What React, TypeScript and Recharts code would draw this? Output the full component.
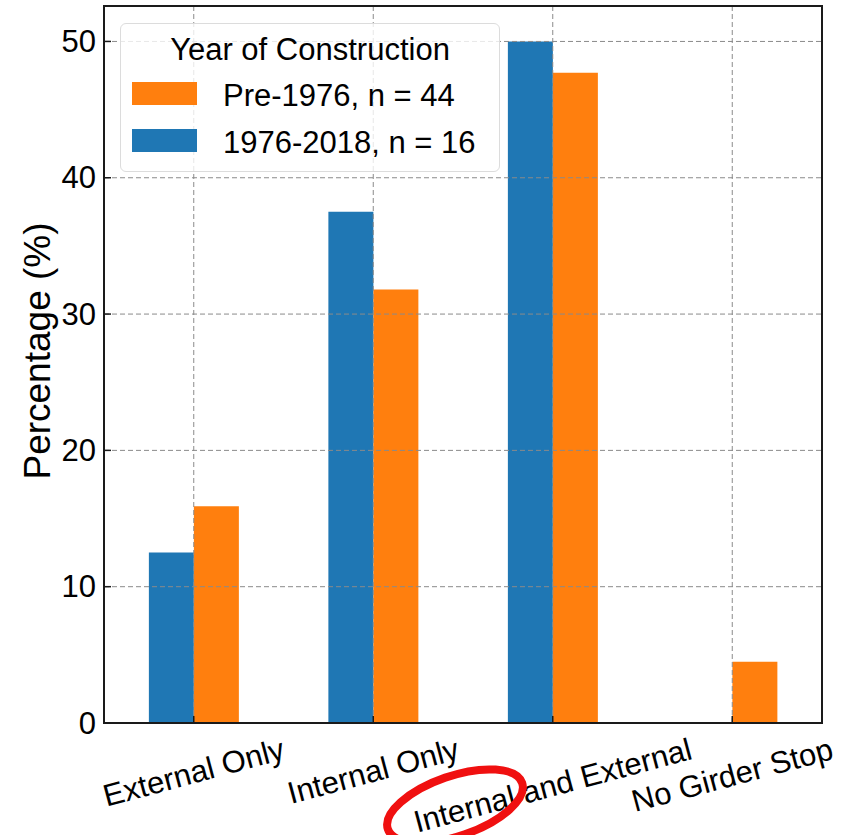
import * as R from "recharts";
import { Bar, BarChart, CartesianGrid, Legend, ReferenceLine, XAxis, YAxis } from "recharts";

const categories = ["External Only", "Internal Only", "Internal and External", "No Girder Stop"];
const post1976 = [12.5, 37.5, 50, 0];
const pre1976 = [15.9, 31.8, 47.7, 4.5];
const yTicks = [0, 10, 20, 30, 40, 50];
const yMax = 52.6;
const legendTitle = "Year of Construction";
const postLabel = "1976-2018, n = 16";
const preLabel = "Pre-1976, n = 44";

const data = categories.map((cat, i) => ({ cat, post: post1976[i], pre: pre1976[i] }));

const FONT = '"Liberation Sans", Arial, sans-serif';
const TICK_FS = 31;
const BLUE = "#1f77b4";
const ORANGE = "#ff7f0e";
const FRAME = "#1a1a1a";

let ctx: CanvasRenderingContext2D | null = null;
function textWidth(s: string, size: number) {
  if (!ctx) ctx = document.createElement("canvas").getContext("2d");
  if (!ctx) return s.length * size * 0.55;
  ctx.font = `${size}px ${FONT}`;
  return ctx.measureText(s).width;
}

// matplotlib-like rotated label: rotated about its center, bbox top at the pad
function XTick(props: any) {
  const { x, y, payload } = props;
  const a = (15 * Math.PI) / 180;
  const w = textWidth(String(payload.value), TICK_FS);
  const h = TICK_FS * 0.9;
  const cy = y + (w * Math.sin(a) + h * Math.cos(a)) / 2;
  const axisY = y - 12;
  return (
    <g>
      <line x1={x} x2={x} y1={axisY} y2={axisY - 7} stroke={FRAME} strokeWidth={1.5} />
      <text
        x={x}
        y={cy}
        textAnchor="middle"
        dominantBaseline="central"
        transform={`rotate(-15, ${x}, ${cy})`}
        fontSize={TICK_FS}
        fontFamily={FONT}
        fill="#000"
      >
        {payload.value}
      </text>
    </g>
  );
}

function YTick(props: any) {
  const { x, y, payload } = props;
  const axisX = x + 8;
  return (
    <g>
      <line x1={axisX} x2={axisX + 7} y1={y} y2={y} stroke={FRAME} strokeWidth={1.5} />
      <text x={x} y={y} textAnchor="end" dominantBaseline="central" fontSize={TICK_FS} fontFamily={FONT} fill="#000">
        {payload.value}
      </text>
    </g>
  );
}

function RightTick(props: any) {
  const { x, y } = props;
  return <line x1={x} x2={x - 7} y1={y} y2={y} stroke={FRAME} strokeWidth={1.5} />;
}

function YLabel(props: any) {
  const vb = props.viewBox || { x: 0, y: 6, width: 104, height: 717 };
  const cx = vb.x + 37;
  const cy = 351;
  return (
    <text
      x={cx}
      y={cy}
      textAnchor="middle"
      dominantBaseline="central"
      transform={`rotate(-90, ${cx}, ${cy})`}
      fontSize={37}
      fontFamily={FONT}
      fill="#000"
    >
      Percentage (%)
    </text>
  );
}

// box around the plot area (matplotlib spines)
function Frame() {
  const hook = (R as any).usePlotArea;
  const area = hook ? hook() : null;
  if (!area) return null;
  return (
    <rect x={area.x} y={area.y} width={area.width} height={area.height} fill="none" stroke={FRAME} strokeWidth={2} />
  );
}

function LegendBox(props: any) {
  const items = [...(props.payload || [])].reverse();
  return (
    <div
      style={{
        position: "relative",
        width: 380,
        height: 149,
        boxSizing: "border-box",
        border: "1.5px solid #dcdcdc",
        borderRadius: 6,
        background: "rgba(255,255,255,0.8)",
        fontFamily: FONT,
        fontSize: TICK_FS,
        color: "#000",
        lineHeight: "31px",
      }}
    >
      <div style={{ position: "absolute", left: 0, right: 0, top: 10, textAlign: "center" }}>{legendTitle}</div>
      {items.map((it: any, i: number) => (
        <div key={it.value}>
          <div
            style={{
              position: "absolute",
              left: 11,
              top: 58 + i * 47,
              width: 65,
              height: 23,
              background: it.color,
            }}
          />
          <div style={{ position: "absolute", left: 102, top: 56 + i * 47, whiteSpace: "nowrap" }}>{it.value}</div>
        </div>
      ))}
    </div>
  );
}

export default function App() {
  return (
    <div style={{ position: "absolute", left: 0, top: 0, width: 856, height: 835, background: "#fff", overflow: "hidden" }}>
      <BarChart
        width={856}
        height={835}
        data={data}
        margin={{ top: 6, right: 33, bottom: 0, left: 0 }}
        barCategoryGap="25%"
        barGap={0}
      >
        <XAxis
          dataKey="cat"
          height={112}
          interval={0}
          tickLine={false}
          tickSize={0}
          tickMargin={12}
          tick={XTick}
          axisLine={{ stroke: FRAME, strokeWidth: 2 }}
        />
        <YAxis
          width={104}
          domain={[0, yMax]}
          ticks={yTicks}
          interval={0}
          tickLine={false}
          tickSize={0}
          tickMargin={8}
          tick={YTick}
          axisLine={{ stroke: FRAME, strokeWidth: 2 }}
          label={YLabel}
        />
        <YAxis
          yAxisId="right"
          orientation="right"
          width={1}
          domain={[0, yMax]}
          ticks={yTicks}
          interval={0}
          tickLine={false}
          tickSize={0}
          tickMargin={0}
          tick={RightTick}
          axisLine={{ stroke: FRAME, strokeWidth: 2 }}
        />
        <Bar dataKey="post" name={postLabel} fill={BLUE} isAnimationActive={false} />
        <Bar dataKey="pre" name={preLabel} fill={ORANGE} isAnimationActive={false} />
        <CartesianGrid stroke="#8a8a8a" strokeDasharray="5 3" strokeWidth={1} zIndex={400} />
        <ReferenceLine y={yMax} stroke={FRAME} strokeWidth={2} ifOverflow="extendDomain" />
        <Frame />
        <Legend
          layout="vertical"
          align="center"
          verticalAlign="middle"
          content={LegendBox}
          wrapperStyle={{ position: "absolute", left: 120, top: 23, width: 380, height: 149 }}
        />
      </BarChart>
      <svg width={856} height={835} style={{ position: "absolute", left: 0, top: 0, pointerEvents: "none" }}>
        <ellipse
          cx={455}
          cy={806}
          rx={71}
          ry={30}
          transform="rotate(-19, 455, 806)"
          fill="none"
          stroke="#f01010"
          strokeWidth={8}
        />
      </svg>
    </div>
  );
}
